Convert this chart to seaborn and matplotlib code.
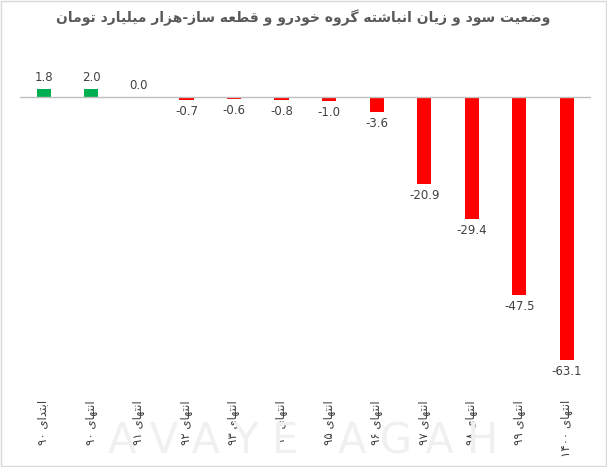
import matplotlib
matplotlib.use("Agg")
import matplotlib.pyplot as plt
import seaborn as sns
import pandas as pd

title = "وضعیت سود و زیان انباشته گروه خودرو و قطعه ساز-هزار میلیارد تومان"
categories = ["ابتدای ۹۰", "انتهای ۹۰", "انتهای ۹۱", "انتهای ۹۲", "انتهای ۹۳", "انتهای ۹۴",
              "انتهای ۹۵", "انتهای ۹۶", "انتهای ۹۷", "انتهای ۹۸", "انتهای ۹۹", "انتهای ۱۴۰۰"]
values = [1.8, 2.0, 0.0, -0.7, -0.6, -0.8, -1.0, -3.6, -20.9, -29.4, -47.5, -63.1]
pos_color = "#00B050"
neg_color = "#FF0000"

FORMS = {
    'ا': (0xFE8D, 0xFE8E, None, None), 'آ': (0xFE81, 0xFE82, None, None),
    'ب': (0xFE8F, 0xFE90, 0xFE91, 0xFE92), 'ت': (0xFE95, 0xFE96, 0xFE97, 0xFE98),
    'خ': (0xFEA5, 0xFEA6, 0xFEA7, 0xFEA8), 'د': (0xFEA9, 0xFEAA, None, None),
    'ر': (0xFEAD, 0xFEAE, None, None), 'ز': (0xFEAF, 0xFEB0, None, None),
    'س': (0xFEB1, 0xFEB2, 0xFEB3, 0xFEB4), 'ش': (0xFEB5, 0xFEB6, 0xFEB7, 0xFEB8),
    'ض': (0xFEBD, 0xFEBE, 0xFEBF, 0xFEC0), 'ط': (0xFEC1, 0xFEC2, 0xFEC3, 0xFEC4),
    'ع': (0xFEC9, 0xFECA, 0xFECB, 0xFECC), 'ق': (0xFED5, 0xFED6, 0xFED7, 0xFED8),
    'ل': (0xFEDD, 0xFEDE, 0xFEDF, 0xFEE0), 'م': (0xFEE1, 0xFEE2, 0xFEE3, 0xFEE4),
    'ن': (0xFEE5, 0xFEE6, 0xFEE7, 0xFEE8), 'ه': (0xFEE9, 0xFEEA, 0xFEEB, 0xFEEC),
    'و': (0xFEED, 0xFEEE, None, None), 'ی': (0xFBFC, 0xFBFD, 0xFBFE, 0xFBFF),
    'گ': (0xFB92, 0xFB93, 0xFB94, 0xFB95), 'ک': (0xFB8E, 0xFB8F, 0xFB90, 0xFB91),
}

def shape_word(w):
    out = []
    n = len(w)
    for i, c in enumerate(w):
        if c not in FORMS:
            out.append(c); continue
        f = FORMS[c]
        prev = w[i-1] if i > 0 else None
        nxt = w[i+1] if i < n-1 else None
        jp = prev in FORMS and FORMS[prev][2] is not None
        jn = nxt in FORMS and f[2] is not None
        if jp and jn: code = f[3]
        elif jp: code = f[1]
        elif jn: code = f[2]
        else: code = f[0]
        out.append(chr(code))
    return "".join(out)

def rtl(s):
    vis = []
    for t in s.split(" "):
        if any(ch in FORMS for ch in t):
            vis.append(shape_word(t)[::-1])
        else:
            vis.append(t)
    return " ".join(vis[::-1])

def rtl_title(s):
    parts = s.split("-")
    return "-".join(rtl(p) for p in parts[::-1])

plt.rcParams['font.family'] = ['DejaVu Sans']
fig = plt.figure(figsize=(6.07, 4.67), dpi=100)
fig.text(0.5, 0.055, "A V A Y E   A G A H", ha="center", va="center", fontsize=30,
         color="#F0F0F0", zorder=0)
ax = fig.add_axes([0.033, 0.197, 0.94, 0.675])
ax.patch.set_alpha(0)
df = pd.DataFrame({"cat": categories, "val": values})
colors = [pos_color if v >= 0 else neg_color for v in values]
sns.barplot(data=df, x="cat", y="val", hue="cat", palette=colors, legend=False,
            width=0.3, ax=ax, saturation=1)
ax.set_ylim(-66.7, 8.9)
ax.set_xlim(-0.5, len(values) - 0.5)
ax.axhline(0, color="#BFBFBF", lw=1)
for s in ax.spines.values():
    s.set_visible(False)
ax.set_yticks([])
ax.set_xlabel(""); ax.set_ylabel("")
ax.set_xticks(range(len(values)))
ax.set_xticklabels([rtl(c) for c in categories], rotation=90, fontsize=8.5, color="#404040")
ax.tick_params(axis="x", length=0, pad=18)
for i, v in enumerate(values):
    if v >= 0:
        ax.text(i, v + 1.2, f"{v:.1f}", ha="center", va="bottom", fontsize=8.5, color="#404040")
    else:
        ax.text(i, v - 1.2, f"{v:.1f}", ha="center", va="top", fontsize=8.5, color="#404040")
fig.text(0.5, 0.962, rtl_title(title), ha="center", va="center", fontsize=10,
         fontweight="bold", color="#595959")
fig.patches.append(plt.Rectangle((0.002, 0.002), 0.996, 0.996, transform=fig.transFigure,
                                 fill=False, edgecolor="#D9D9D9", lw=1))
fig.savefig("out.png", dpi=100)
